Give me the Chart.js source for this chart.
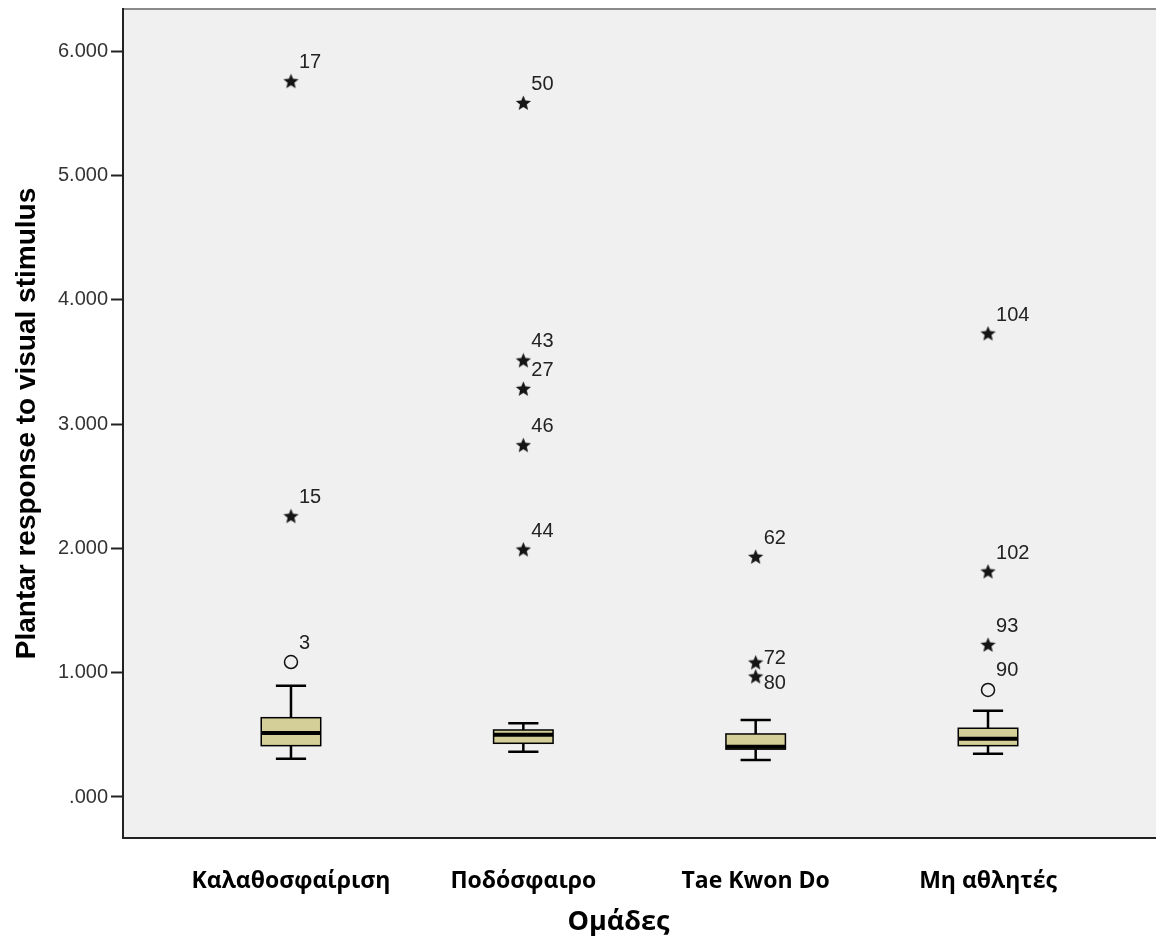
<!DOCTYPE html>
<html>
<head>
<meta charset="utf-8">
<script src="https://cdn.jsdelivr.net/npm/chart.js@4"></script>
<style>
  body { margin: 0; background: #fff; }
  canvas { display: block; }
</style>
</head>
<body>
<canvas id="boxChart" width="1156" height="945"></canvas>
<script>
// groups and five-number summaries
const groups      = ['Καλαθοσφαίριση', 'Ποδόσφαιρο', 'Tae Kwon Do', 'Μη αθλητές'];
const whiskerLow  = [0.308, 0.364, 0.298, 0.348];
const q1          = [0.413, 0.432, 0.385, 0.413];
const median      = [0.515, 0.500, 0.405, 0.469];
const q3          = [0.638, 0.539, 0.507, 0.553];
const whiskerHigh = [0.895, 0.593, 0.620, 0.694];

// outliers (circle) and extremes (star), with case numbers
const outlierGroup = [0, 3];
const outlierValue = [1.086, 0.861];
const outlierCase  = ['3', '90'];

const extremeGroup = [0, 0, 1, 1, 1, 1, 1, 2, 2, 2, 3, 3, 3];
const extremeValue = [5.755, 2.255, 5.58, 3.508, 3.28, 2.826, 1.987, 1.928, 1.078, 0.965, 3.725, 1.81, 1.22];
const extremeCase  = ['17', '15', '50', '43', '27', '46', '44', '62', '72', '80', '104', '102', '93'];

const yTicks = [0, 1, 2, 3, 4, 5, 6];
const xTitle = 'Ομάδες';

function makeStar(size)
{
  const c = document.createElement('canvas');
  c.width = c.height = size;
  const g = c.getContext('2d');
  g.translate(size / 2, size / 2);
  g.beginPath();
  for (let k = 0; k < 10; k++) {
    const r = (k % 2) ? size * 0.21 : size * 0.47;
    const a = -Math.PI / 2 + k * Math.PI / 5;
    if (k == 0) g.moveTo(r * Math.cos(a), r * Math.sin(a));
    else        g.lineTo(r * Math.cos(a), r * Math.sin(a));
  }
  g.closePath();
  g.fillStyle = '#151515';
  g.fill();
  return c;
}

const toPoints = (grp, vals) => vals.map((v, i) => ({ x: grp[i] + 1, y: v }));

// background, frame, boxes and case labels
const boxPlugin = {
  id: 'boxes',
  beforeDraw(chart) {
    const { ctx, chartArea: a } = chart;
    ctx.save();
    ctx.fillStyle = '#f0f0f0';
    ctx.fillRect(a.left, a.top, a.right - a.left, a.bottom - a.top);
    ctx.strokeStyle = '#8a8a8a';
    ctx.lineWidth = 2;
    ctx.beginPath();
    ctx.moveTo(a.left, a.top);
    ctx.lineTo(a.right, a.top);
    ctx.stroke();
    ctx.restore();
  },
  beforeDatasetsDraw(chart) {
    const { ctx } = chart;
    const xs = chart.scales.x, ys = chart.scales.y;
    const unit = xs.getPixelForValue(2) - xs.getPixelForValue(1);
    const halfBox = unit * 0.128, halfCap = unit * 0.065;
    ctx.save();
    ctx.strokeStyle = '#000';
    groups.forEach((g, i) => {
      const xc = xs.getPixelForValue(i + 1);
      const yLo = ys.getPixelForValue(whiskerLow[i]);
      const yHi = ys.getPixelForValue(whiskerHigh[i]);
      const yQ1 = ys.getPixelForValue(q1[i]);
      const yQ3 = ys.getPixelForValue(q3[i]);
      const yMd = ys.getPixelForValue(median[i]);

      // whiskers and caps
      ctx.lineWidth = 2.5;
      ctx.beginPath();
      ctx.moveTo(xc, yHi); ctx.lineTo(xc, yQ3);
      ctx.moveTo(xc, yQ1); ctx.lineTo(xc, yLo);
      ctx.moveTo(xc - halfCap, yHi); ctx.lineTo(xc + halfCap, yHi);
      ctx.moveTo(xc - halfCap, yLo); ctx.lineTo(xc + halfCap, yLo);
      ctx.stroke();

      // box
      ctx.fillStyle = '#d4ce98';
      ctx.fillRect(xc - halfBox, yQ3, halfBox * 2, yQ1 - yQ3);
      ctx.lineWidth = 1.5;
      ctx.strokeRect(xc - halfBox, yQ3, halfBox * 2, yQ1 - yQ3);

      // median
      ctx.lineWidth = 4;
      ctx.beginPath();
      ctx.moveTo(xc - halfBox, yMd); ctx.lineTo(xc + halfBox, yMd);
      ctx.stroke();
    });
    ctx.restore();
  },
  afterDatasetsDraw(chart) {
    const { ctx } = chart;
    ctx.save();
    ctx.font = '20px "Liberation Sans", Arial, sans-serif';
    ctx.fillStyle = '#222';
    ctx.textAlign = 'left';
    ctx.textBaseline = 'middle';
    chart.data.datasets.forEach((ds, d) => {
      const meta = chart.getDatasetMeta(d);
      meta.data.forEach((pt, j) => {
        // nudge labels sideways when two marks sit close together
        let dy = -19;
        const near = meta.data.filter((o, k) => k != j && Math.abs(o.x - pt.x) < 1 && Math.abs(o.y - pt.y) < 20);
        if (near.length) dy = near[0].y > pt.y ? -5 : 6;
        ctx.fillText(ds.caseLabels[j], pt.x + 8, pt.y + dy);
      });
    });
    ctx.restore();
  },
  afterDraw(chart) {
    // axis title sits a little left of the plot centre
    const { ctx, chartArea: a } = chart;
    ctx.save();
    ctx.font = 'bold 27px "Open Sans", sans-serif';
    ctx.fillStyle = '#000';
    ctx.textAlign = 'center';
    ctx.textBaseline = 'middle';
    ctx.fillText(xTitle, (a.left + a.right) / 2 - 21, chart.height - 23);
    ctx.restore();
  }
};

const ctx = document.getElementById('boxChart').getContext('2d');

new Chart(ctx, {
  type: 'scatter',
  data: {
    datasets: [
      {
        label: 'outliers',
        data: toPoints(outlierGroup, outlierValue),
        caseLabels: outlierCase,
        pointStyle: 'circle',
        pointRadius: 6.5,
        borderColor: '#111',
        borderWidth: 1.5,
        backgroundColor: 'rgba(0,0,0,0)'
      },
      {
        label: 'extremes',
        data: toPoints(extremeGroup, extremeValue),
        caseLabels: extremeCase,
        pointStyle: makeStar(17),
        pointRadius: 8
      }
    ]
  },
  options: {
    responsive: false,
    animation: false,
    devicePixelRatio: 1,
    layout: { autoPadding: false, padding: { top: 9, left: 0, right: 0, bottom: 0 } },
    plugins: { legend: { display: false }, tooltip: { enabled: false } },
    scales: {
      x: {
        type: 'linear',
        min: 0.277,
        max: 4.723,
        afterBuildTicks: s => { s.ticks = groups.map((g, i) => ({ value: i + 1 })); },
        afterFit: s => { s.height = 107; s.paddingLeft = 0; s.paddingRight = 0; },
        grid: { display: false },
        border: { display: true, color: '#222', width: 2 },
        ticks: {
          padding: 22,
          color: '#000',
          font: { family: '"Open Sans", sans-serif', size: 23, weight: 'bold' },
          callback: v => groups[Math.round(v) - 1]
        }
      },
      y: {
        min: -0.33,
        max: 6.34,
        afterBuildTicks: s => { s.ticks = yTicks.map(v => ({ value: v })); },
        afterFit: s => { s.width = 123; s.paddingTop = 0; s.paddingBottom = 0; },
        grid: { display: true, drawOnChartArea: false, drawTicks: true, tickLength: 12, tickColor: '#222', tickWidth: 2 },
        border: { display: true, color: '#222', width: 2 },
        ticks: {
          padding: 3,
          color: '#333',
          font: { family: '"Liberation Sans", Arial, sans-serif', size: 20 },
          callback: v => v.toFixed(3).replace(/^0/, '')
        },
        title: {
          display: true,
          text: 'Plantar response to visual stimulus',
          color: '#000',
          padding: { top: 10, bottom: 0 },
          font: { family: '"Liberation Sans", Arial, sans-serif', size: 28, weight: 'bold' }
        }
      }
    }
  },
  plugins: [boxPlugin]
});
</script>
</body>
</html>
